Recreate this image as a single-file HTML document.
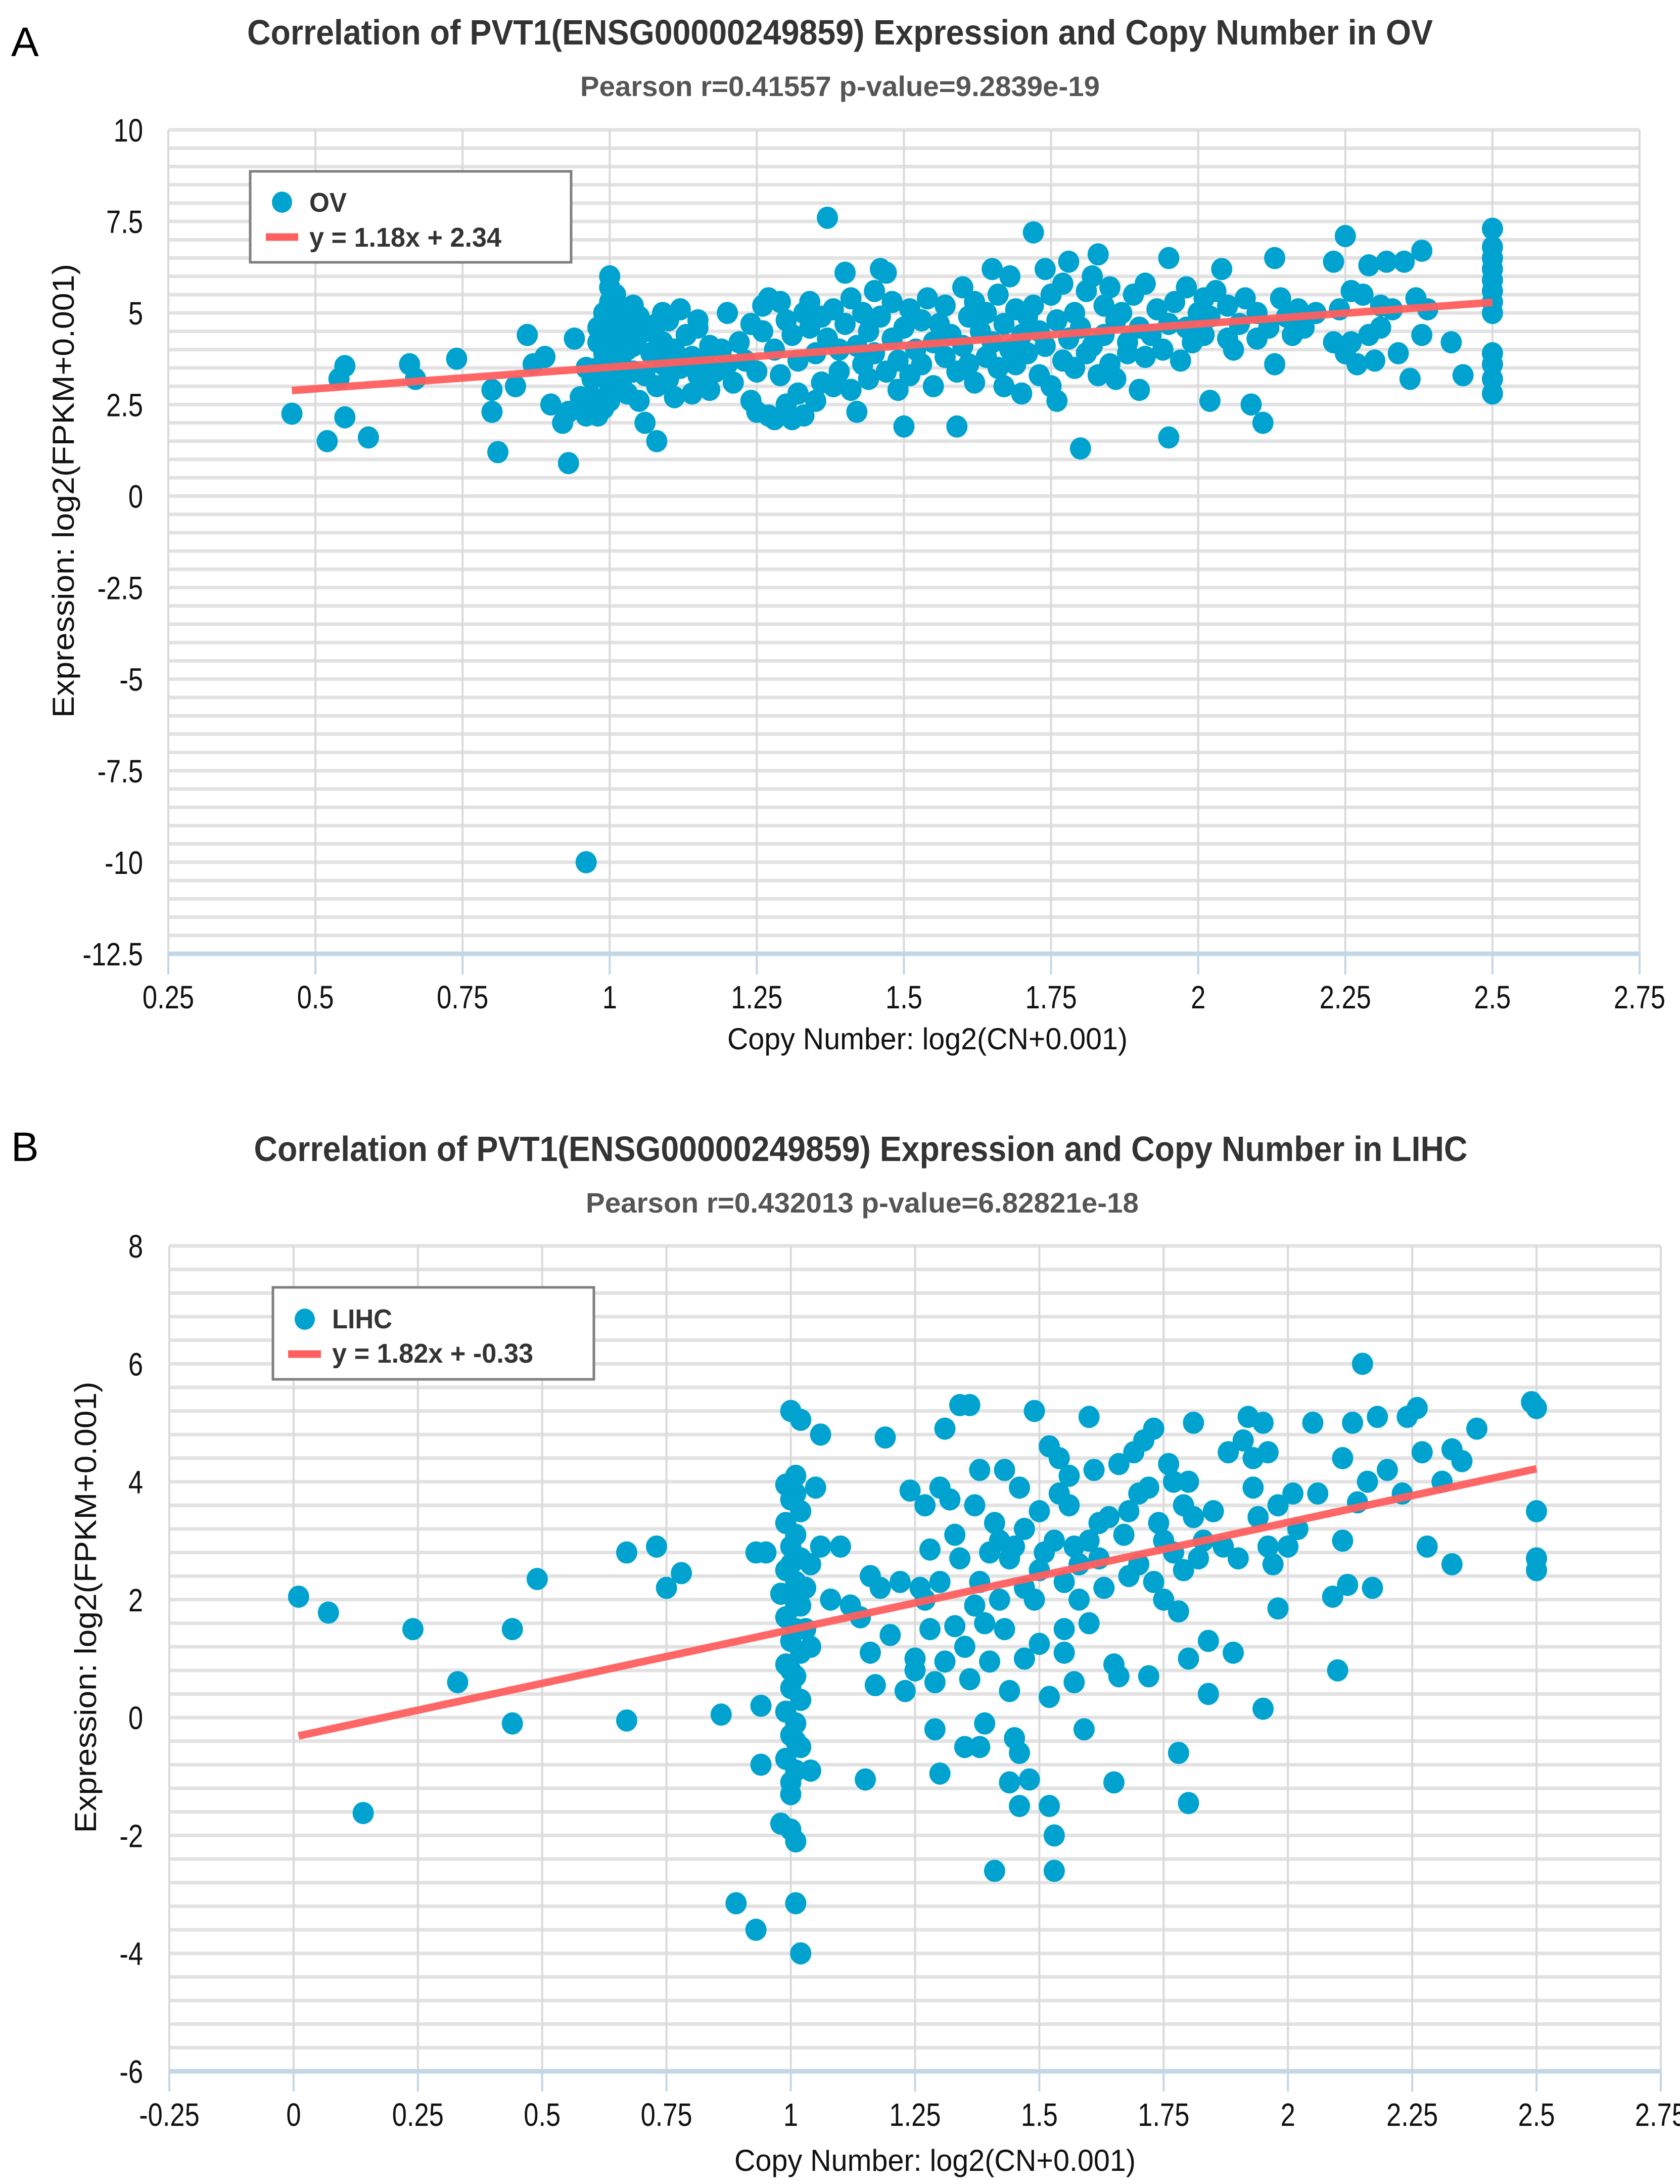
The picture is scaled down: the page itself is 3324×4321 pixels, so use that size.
<!DOCTYPE html>
<html><head><meta charset="utf-8"><style>
html,body{margin:0;padding:0;background:#fff;}
svg{display:block;}
text{font-family:"Liberation Sans",Arial,sans-serif;}
</style></head><body>
<svg id="fig" width="3324" height="4321" viewBox="0 0 3324 4321" xmlns="http://www.w3.org/2000/svg">
<rect width="3324" height="4321" fill="#fff"/>
<text x="22" y="111" font-size="82" fill="#000">A</text>
<text x="1662" y="88" font-size="70" font-weight="bold" fill="#333" text-anchor="middle" textLength="2346" lengthAdjust="spacingAndGlyphs">Correlation of PVT1(ENSG00000249859) Expression and Copy Number in OV</text>
<text x="1662" y="190" font-size="56" font-weight="bold" fill="#555" text-anchor="middle" textLength="1028" lengthAdjust="spacingAndGlyphs">Pearson r=0.41557 p-value=9.2839e-19</text>
<text x="22" y="2297" font-size="82" fill="#000">B</text>
<text x="1703" y="2297" font-size="70" font-weight="bold" fill="#333" text-anchor="middle" textLength="2401" lengthAdjust="spacingAndGlyphs">Correlation of PVT1(ENSG00000249859) Expression and Copy Number in LIHC</text>
<text x="1706" y="2399" font-size="56" font-weight="bold" fill="#555" text-anchor="middle" textLength="1094" lengthAdjust="spacingAndGlyphs">Pearson r=0.432013 p-value=6.82821e-18</text>
<g id="chartA"></g>
<g id="chartB"></g>
</svg>
<script>
// ---- Chart A data (OV) ----
const ovXTicks = [0.25,0.5,0.75,1,1.25,1.5,1.75,2,2.25,2.5,2.75];
const ovXTickLabels = ["0.25","0.5","0.75","1","1.25","1.5","1.75","2","2.25","2.5","2.75"];
const ovYTicks = [10,7.5,5,2.5,0,-2.5,-5,-7.5,-10,-12.5];
const ovYTickLabels = ["10","7.5","5","2.5","0","-2.5","-5","-7.5","-10","-12.5"];
const ovTrend = [1.18, 2.34, 0.46, 2.5]; // slope, intercept, x start, x end
const ovPoints = [
[0.46,2.25],[0.52,1.5],[0.54,3.2],[0.55,3.55],[0.55,2.15],[0.59,1.6],[0.66,3.6],[0.67,3.2],[0.74,3.75],[0.8,2.3],[0.8,2.9],[0.81,1.2],[0.84,3.0],[0.86,4.4],[0.87,3.6],[0.89,3.8],[0.9,2.5],[0.92,2.0],[0.93,0.9],[0.93,2.3],[0.94,4.3],[0.96,-10],[0.95,2.7],[0.96,2.2],
[0.98,4.6],[0.98,4.2],[0.98,3.5],[0.99,5.0],[0.99,3.9],[0.99,2.4],[1.0,6.0],[1.0,5.7],[1.0,5.3],[1.0,4.8],[1.0,4.4],[1.0,4.0],[1.0,3.7],[1.0,3.3],[1.0,2.9],[1.0,2.6],[1.01,5.5],[1.01,4.6],[1.01,4.2],[1.01,3.8],[1.01,3.5],[1.02,5.1],[1.02,4.9],[1.02,4.3],[1.02,3.6],[1.02,3.1],[1.03,4.5],[1.03,4.0],[1.03,2.8],[1.04,4.7],[1.04,4.1],[1.04,3.4],[1.05,4.9],[1.05,4.4],[1.05,2.6],[0.97,3.2],[0.97,2.7],[0.96,3.5],[0.98,2.2],[1.04,5.2],[1.09,5.0],[1.15,4.8],
[1.06,2.0],[1.06,3.3],[1.07,4.5],[1.07,3.9],[1.08,1.5],[1.08,4.7],[1.08,3.0],[1.09,4.2],[1.09,3.6],[1.1,4.8],[1.1,3.2],[1.11,4.0],[1.11,2.7],[1.12,5.1],[1.12,3.5],[1.13,4.4],[1.14,3.8],[1.14,2.8],[1.15,3.3],[1.15,4.6],[1.16,3.7],[1.17,4.1],[1.17,2.9],[1.18,3.4],[1.19,4.0],[1.2,5.0],[1.2,3.6],[1.21,3.1],[1.22,4.2],[1.23,3.7],[1.24,2.6],[1.24,4.7],[1.25,2.3],[1.25,3.4],[1.26,4.5],[1.26,5.2],[1.27,2.2],[1.27,5.4],[1.28,2.1],[1.28,4.0],[1.29,3.3],[1.29,5.3],[1.3,2.5],[1.3,4.8],[1.31,2.1],[1.31,4.4],[1.32,3.7],[1.32,2.8],[1.33,5.0],[1.33,2.2],[1.34,4.6],[1.34,5.3],[1.35,2.6],[1.35,3.9],[1.36,4.9],[1.36,3.1],[1.37,7.6],[1.37,4.3],[1.38,3.0],[1.38,5.1],[1.39,4.0],[1.39,3.4],[1.4,6.1],[1.4,4.7],[1.41,2.9],[1.41,5.4],[1.42,2.3],[1.42,4.1],[1.43,3.6],[1.43,5.0],[1.44,4.5],[1.44,3.2],[1.45,5.6],[1.45,3.9],[1.46,6.2],[1.46,4.9],[1.47,3.4],[1.47,6.1],[1.48,4.3],[1.48,5.3],[1.49,3.7],[1.49,2.9],[1.5,1.9],[1.5,4.6],[1.51,5.1],[1.51,3.3],[1.52,4.0],[1.53,4.8],[1.53,3.6],[1.54,5.4],[1.55,4.2],[1.55,3.0],[1.56,4.7],[1.57,3.8],[1.57,5.2],[1.58,4.4],[1.59,1.9],[1.59,3.4],[1.6,5.7],[1.6,4.1],[1.61,3.6],[1.61,4.9],[1.62,5.3],[1.62,3.1],[1.63,4.5],[1.64,3.8],[1.64,5.0],[1.65,6.2],[1.65,4.2],[1.66,3.5],[1.66,5.5],[1.67,4.7],[1.67,3.0],[1.68,6.0],[1.68,4.0],[1.69,5.1],[1.69,3.6],[1.7,4.4],[1.7,2.8],[1.71,4.9],[1.71,3.9],[1.72,7.2],[1.72,5.2],[1.73,3.3],[1.73,4.5],[1.74,6.2],[1.74,4.1],[1.75,5.5],[1.75,3.0],[1.76,2.6],[1.76,4.8],[1.77,3.7],[1.77,5.8],[1.78,4.3],[1.78,6.4],[1.79,5.0],[1.79,3.5],[1.8,1.3],[1.8,4.6],[1.81,3.9],[1.81,5.6],[1.82,4.1],[1.82,6.0],[1.83,6.6],[1.83,3.3],[1.84,5.2],[1.84,4.4],[1.85,3.6],[1.85,5.7],[1.86,4.8],[1.86,3.2],[1.87,5.0],[1.88,4.2],[1.88,3.9],[1.89,5.5],[1.9,4.6],[1.9,2.9],[1.91,5.8],[1.91,3.8],[1.92,4.4],[1.93,5.1],[1.94,4.0],[1.95,1.6],[1.95,6.5],[1.95,4.7],[1.96,5.3],[1.97,3.7],[1.98,4.6],[1.98,5.7],[1.99,4.2],[2.0,5.0],[2.01,5.4],[2.01,4.4],[2.02,2.6],[2.02,4.9],[2.03,5.6],[2.04,6.2],[2.05,4.3],[2.05,5.2],[2.06,4.0],[2.07,4.7],[2.08,5.4],[2.09,2.5],[2.1,4.3],[2.1,5.0],[2.11,2.0],[2.12,4.6],[2.13,3.6],[2.13,6.5],[2.14,5.4],[2.15,4.9],[2.16,4.4],[2.17,5.1],[2.18,4.6],[2.2,5.0],[2.23,6.4],[2.23,4.2],[2.24,5.1],[2.25,7.1],[2.25,3.9],[2.26,4.2],[2.26,5.6],[2.27,3.6],[2.28,5.5],[2.29,6.3],[2.29,4.4],[2.3,3.7],[2.31,4.6],[2.31,5.2],[2.32,6.4],[2.33,5.1],[2.34,3.9],[2.35,6.4],[2.36,3.2],[2.37,5.4],[2.38,6.7],[2.38,4.4],[2.39,5.1],[2.43,4.2],[2.45,3.3],
[2.5,7.3],[2.5,6.8],[2.5,6.5],[2.5,6.2],[2.5,5.9],[2.5,5.6],[2.5,5.3],[2.5,5.0],[2.5,3.9],[2.5,3.6],[2.5,3.2],[2.5,2.8]
];
// ---- Chart B data (LIHC) ----
const lihcXTicks = [-0.25,0,0.25,0.5,0.75,1,1.25,1.5,1.75,2,2.25,2.5,2.75];
const lihcXTickLabels = ["-0.25","0","0.25","0.5","0.75","1","1.25","1.5","1.75","2","2.25","2.5","2.75"];
const lihcYTicks = [8,6,4,2,0,-2,-4,-6];
const lihcYTickLabels = ["8","6","4","2","0","-2","-4","-6"];
const lihcTrend = [1.82, -0.33, 0.01, 2.5];
const lihcPoints = [
[0.01,2.05],[0.07,1.78],[0.14,-1.62],[0.24,1.5],[0.33,0.6],[0.44,-0.1],[0.44,1.5],[0.49,2.35],[0.67,2.8],[0.67,-0.05],[0.73,2.9],[0.75,2.2],[0.78,2.45],[0.86,0.05],[0.89,-3.15],[0.93,-3.6],[0.93,2.8],[0.94,0.2],[0.95,2.8],[0.94,-0.8],[0.98,2.1],[0.98,-1.8],[1.01,-3.15],[1.02,-4.0],[1.01,-2.1],[1.0,-1.9],
[1.0,5.2],[1.02,5.05],[1.01,4.1],[0.99,3.95],[1.0,3.7],[1.02,3.5],[0.99,3.3],[1.01,3.1],[1.0,2.9],[1.02,2.7],[0.99,2.5],[1.01,2.3],[1.0,2.1],[1.02,1.9],[0.99,1.7],[1.01,1.5],[1.0,1.3],[1.02,1.1],[0.99,0.9],[1.01,0.7],[1.0,0.5],[1.02,0.3],[0.99,0.1],[1.01,-0.1],[1.0,-0.3],[1.02,-0.5],[0.99,-0.7],[1.01,-0.9],[1.0,-1.1],[1.0,-1.3],[1.01,3.8],[1.0,2.6],[1.01,1.9],[1.0,0.8],[1.01,-0.4],
[1.03,2.2],[1.03,1.5],[1.04,1.2],[1.04,-0.9],[1.04,2.6],[1.05,3.9],[1.06,4.8],[1.06,2.9],[1.08,2.0],
[1.1,2.9],[1.12,1.9],[1.14,1.7],[1.15,-1.05],[1.16,2.4],[1.16,1.1],[1.17,0.55],[1.18,2.2],[1.19,4.75],[1.2,1.4],[1.22,2.3],[1.23,0.45],[1.24,3.85],[1.25,1.0],[1.25,0.8],[1.26,2.2],[1.27,2.0],[1.28,1.5],[1.28,2.85],[1.29,-0.2],[1.29,0.6],[1.3,3.9],[1.3,-0.95],[1.31,4.9],[1.31,0.95],[1.32,3.7],[1.33,1.55],[1.34,5.3],[1.34,2.7],[1.35,-0.5],[1.36,5.3],[1.36,0.65],[1.37,3.6],[1.37,1.9],[1.38,4.2],[1.38,2.3],[1.38,-0.5],[1.39,1.6],[1.39,-0.1],[1.4,2.8],[1.4,0.95],[1.41,3.3],[1.41,-2.6],[1.42,2.0],[1.43,1.5],[1.43,4.2],[1.44,0.45],[1.44,-1.1],[1.45,-0.35],[1.45,2.9],[1.46,-0.6],[1.46,-1.5],[1.46,3.9],[1.47,1.0],[1.47,2.2],[1.48,-1.05],[1.49,5.2],[1.49,2.0],[1.5,3.5],[1.5,1.25],[1.51,2.8],[1.52,4.6],[1.52,0.35],[1.52,-1.5],[1.53,-2.6],[1.53,-2.0],[1.53,3.0],[1.54,4.4],[1.55,2.3],[1.55,1.5],[1.56,3.6],[1.56,4.1],[1.57,0.6],[1.58,2.6],[1.59,-0.2],[1.6,5.1],[1.6,3.0],[1.61,4.2],[1.62,2.7],[1.63,2.2],[1.64,3.4],[1.65,0.9],[1.65,-1.1],[1.66,0.7],[1.66,4.3],[1.67,3.1],[1.68,3.5],[1.69,4.5],[1.7,2.6],[1.71,4.7],[1.72,3.9],[1.72,0.7],[1.73,4.9],[1.73,2.3],[1.74,3.3],[1.75,2.0],[1.76,4.3],[1.77,2.8],[1.78,-0.6],[1.78,1.8],[1.79,3.6],[1.79,2.5],[1.8,4.0],[1.8,1.0],[1.8,-1.45],[1.81,3.4],[1.81,5.0],[1.82,2.7],[1.83,3.0],[1.84,1.3],[1.84,0.4],[1.85,3.5],[1.87,2.9],[1.88,4.5],[1.89,1.1],[1.9,2.7],[1.91,4.7],[1.92,5.1],[1.93,3.9],[1.93,4.4],[1.94,3.4],[1.95,0.15],[1.95,5.0],[1.96,4.5],[1.96,2.9],[1.97,2.6],[1.98,3.6],[1.98,1.85],[2.0,2.9],[2.01,3.8],[2.02,3.2],[2.05,5.0],[2.06,3.8],[2.09,2.05],[2.1,0.8],[2.11,4.4],[2.11,3.0],[2.12,2.25],[2.13,5.0],[2.14,3.65],[2.15,6.0],[2.16,4.0],[2.17,2.2],[2.18,5.1],[2.2,4.2],[2.23,3.8],[2.24,5.1],[2.26,5.25],[2.27,4.5],[2.28,2.9],[2.31,4.0],[2.33,4.55],[2.33,2.6],[2.35,4.35],[2.38,4.9],[2.49,5.35],[2.5,5.25],[2.5,3.5],[2.5,2.7],[2.5,2.5],
[1.42,3.0],[1.44,2.7],[1.47,3.2],[1.5,2.5],[1.54,3.8],[1.58,2.0],[1.6,1.6],[1.62,3.3],[1.68,2.4],[1.7,3.8],[1.75,3.0],[1.77,4.0],[1.55,1.1],[1.57,2.9],[1.3,2.3],[1.33,3.1],[1.27,3.6],[1.35,1.2]
];

const NS = "http://www.w3.org/2000/svg";
function mk(parent, tag, attrs, text){
  const e = document.createElementNS(NS, tag);
  for (const k in attrs) e.setAttribute(k, attrs[k]);
  if (text !== undefined) e.textContent = text;
  parent.appendChild(e);
  return e;
}
function labelWidth(s, fs){
  let w = 0;
  for (const c of s){ w += (c === "." ? 0.278 : c === "-" ? 0.333 : 0.556); }
  return w * fs * 0.82;
}
function drawChart(g, cfg){
  const {x0,x1,xmin,xmax,y0,y1,ymax,ymin,minorStep,xTicks,xLabels,yTicks,yLabels,points,trend,legend,tickBottom,xLabelY,xTitleY,xTitleX,yTitleX,yTitleY,yTitleLen,xTitleLen} = cfg;
  const sx = v => x0 + (v - xmin) / (xmax - xmin) * (x1 - x0);
  const sy = v => y0 + (ymax - v) / (ymax - ymin) * (y1 - y0);
  const nMinor = Math.round((ymax - ymin) / minorStep);
  for (let i = 0; i < nMinor; i++){
    const v = ymax - i * minorStep;
    const l = mk(g, "line", {x1:x0, x2:x1, y1:sy(v), y2:sy(v), stroke:"#e2e2e2", "stroke-width":7});
    
    
  }
  xTicks.forEach(v => {
    const l = mk(g, "line", {x1:sx(v), x2:sx(v), y1:y0, y2:y1, stroke:"#dadada", "stroke-width":4});
    
    
    const t = mk(g, "line", {x1:sx(v), x2:sx(v), y1:y1, y2:tickBottom, stroke:"#c3d6e6", "stroke-width":4});
    
    
  });
  const ax = mk(g, "line", {x1:x0, x2:x1, y1:y1, y2:y1, stroke:"#c3d6e6", "stroke-width":9});
  
  
  xTicks.forEach((v, i) => {
    const s = xLabels[i];
    const t = mk(g, "text", {x:sx(v), y:xLabelY, "font-size":64, fill:"#111", "text-anchor":"middle", textLength:labelWidth(s,64), lengthAdjust:"spacingAndGlyphs"}, s);
    
    
  });
  yTicks.forEach((v, i) => {
    const s = yLabels[i];
    const w = labelWidth(s,64);
    const t = mk(g, "text", {x:283 - w, y:sy(v) + 23, "font-size":64, fill:"#111", textLength:w, lengthAdjust:"spacingAndGlyphs"}, s);
    
    
  });
  const xt = mk(g, "text", {x:xTitleX, y:xTitleY, "font-size":60, fill:"#111", "text-anchor":"middle", textLength:xTitleLen, lengthAdjust:"spacingAndGlyphs"}, "Copy Number: log2(CN+0.001)");
  
  
  const yt = mk(g, "text", {x:0, y:0, "font-size":60, fill:"#111", "text-anchor":"middle", textLength:yTitleLen, lengthAdjust:"spacingAndGlyphs", transform:`translate(${yTitleX},${yTitleY}) rotate(-90)`}, "Expression: log2(FPKM+0.001)");
  
  
  points.forEach(p => {
    const c = mk(g, "ellipse", {cx:sx(p[0]), cy:sy(p[1]), rx:21, ry:22, fill:"#00a3cf"});
    
    
  });
  const [m, b, ta, tb] = trend;
  const tl = mk(g, "line", {x1:sx(ta), y1:sy(m*ta+b), x2:sx(tb), y2:sy(m*tb+b), stroke:"#ff5f5f", "stroke-width":15, "stroke-opacity":0.95});
  
  
  const L = legend;
  const lg = mk(g, "g", {});
  
  
  mk(lg, "rect", {x:L.x, y:L.y, width:L.w, height:L.h, fill:"#fff", stroke:"#7f7f7f", "stroke-width":5});
  const lm = mk(lg, "ellipse", {cx:L.mx, cy:L.my1, rx:20, ry:21, fill:"#00a3cf"});
  
  
  const l1 = mk(lg, "text", {x:L.tx, y:L.ty1, "font-size":54, "font-weight":"bold", fill:"#333", textLength:L.w1, lengthAdjust:"spacingAndGlyphs"}, L.t1);
  
  
  const ll = mk(lg, "line", {x1:L.lx1, x2:L.lx2, y1:L.my2, y2:L.my2, stroke:"#ff5f5f", "stroke-width":15});
  
  
  const l2 = mk(lg, "text", {x:L.tx, y:L.ty2, "font-size":54, "font-weight":"bold", fill:"#333", textLength:L.w2, lengthAdjust:"spacingAndGlyphs"}, L.t2);
  
  
}
drawChart(document.getElementById("chartA"), {
  x0:333, x1:3244, xmin:0.25, xmax:2.75, y0:257, y1:1887, ymax:10, ymin:-12.5, minorStep:0.5,
  xTicks:ovXTicks, xLabels:ovXTickLabels, yTicks:ovYTicks, yLabels:ovYTickLabels,
  points:ovPoints, trend:ovTrend, tickBottom:1928, xLabelY:1995, xTitleY:2076, xTitleX:1835, xTitleLen:792,
  yTitleX:146, yTitleY:971, yTitleLen:898,
  legend:{x:495,y:339,w:635,h:180,mx:558,my1:400,tx:612,ty1:419,w1:74,t1:"OV",lx1:526,lx2:590,my2:469,ty2:488,w2:380,t2:"y = 1.18x + 2.34"}
});
drawChart(document.getElementById("chartB"), {
  x0:335, x1:3286, xmin:-0.25, xmax:2.75, y0:2465, y1:4098, ymax:8, ymin:-6, minorStep:0.4,
  xTicks:lihcXTicks, xLabels:lihcXTickLabels, yTicks:lihcYTicks, yLabels:lihcYTickLabels,
  points:lihcPoints, trend:lihcTrend, tickBottom:4138, xLabelY:4206, xTitleY:4295, xTitleX:1850, xTitleLen:794,
  yTitleX:190, yTitleY:3180, yTitleLen:893,
  legend:{x:540,y:2547,w:635,h:182,mx:603,my1:2610,tx:657,ty1:2628,w1:119,t1:"LIHC",lx1:570,lx2:635,my2:2679,ty2:2696,w2:398,t2:"y = 1.82x + -0.33"}
});
</script>
</body></html>
